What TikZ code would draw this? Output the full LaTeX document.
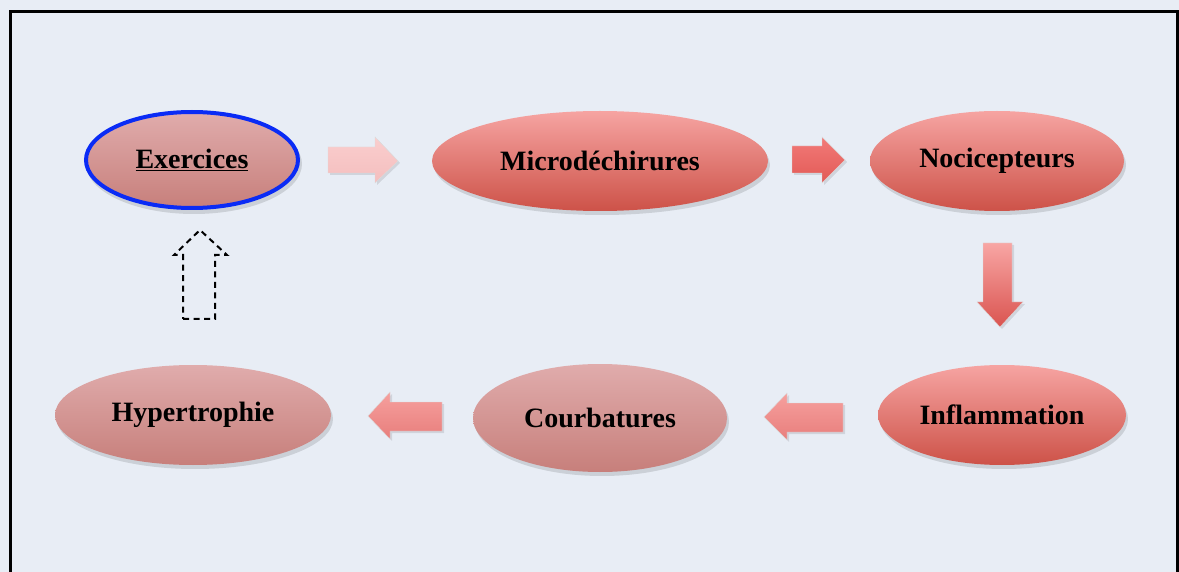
\documentclass[tikz,border=0pt]{standalone}
\usepackage{fontspec}
\setmainfont{Liberation Serif}
\usetikzlibrary{shapes.geometric}
\definecolor{bg}{HTML}{E8EDF5}
\definecolor{redtop}{HTML}{F6A4A2}
\definecolor{redbot}{HTML}{CD5248}
\definecolor{pinktop}{HTML}{E0ACAC}
\definecolor{pinkbot}{HTML}{C77F7B}
\definecolor{exblue}{HTML}{0A2BF5}
\definecolor{a1top}{HTML}{FACECE}
\definecolor{a1bot}{HTML}{F4BEBE}
\definecolor{a2top}{HTML}{F27A78}
\definecolor{a2bot}{HTML}{E25A56}
\definecolor{a3top}{HTML}{F8A6A4}
\definecolor{a3bot}{HTML}{DA5450}
\definecolor{a4top}{HTML}{F6A09E}
\definecolor{a4bot}{HTML}{E87E7C}
\tikzset{
  bubble/.style={ellipse, inner sep=0pt, font=\bfseries\fontsize{28}{32}\selectfont},
  redbubble/.style={bubble, top color=redtop, bottom color=redbot},
  pinkbubble/.style={bubble, top color=pinktop, bottom color=pinkbot},
  shadowed/.style={fill=black, opacity=0.12},
  arrowshadow/.style={fill=black, opacity=0.1},
  blockarrow/.style={draw=black!14, line width=0.4pt},
}
\begin{document}
\begin{tikzpicture}[x=1pt,y=-1pt]
\useasboundingbox (0,0) rectangle (1179,572);
\fill[bg] (0,0) rectangle (1179,572);
\begin{scope}
\clip (0,0) rectangle (1179,572);
\draw[line width=2.2pt] (10.5,580) -- (10.5,11.5) -- (1177.5,11.5) -- (1177.5,580);
\end{scope}

% shadows
\foreach \cx/\cy/\rx/\ry in {192/163/108/50, 600/164/168/50, 997/164/127/50, 1002/418/124/50, 600/421/127/54, 193/418/138/50}
  \fill[shadowed] (\cx+2,\cy+1) ellipse [x radius=\rx pt, y radius=\ry pt];

\node[pinkbubble, draw=exblue, line width=4pt, minimum width=212pt, minimum height=96pt] (ex) at (192,160) {\underline{Exercices}};
\node[redbubble, minimum width=336pt, minimum height=100pt] (mi) at (600,161) {Microdéchirures};
\node[redbubble, minimum width=254pt, minimum height=100pt] (no) at (997,161) {Nocicepteurs};
\node[redbubble, minimum width=248pt, minimum height=100pt] (in) at (1002,415) {Inflammation};
\node[pinkbubble, minimum width=254pt, minimum height=108pt] (co) at (600,418) {Courbatures};
\node[pinkbubble, minimum width=276pt, minimum height=100pt] (hy) at (193,415) {Hypertrophie};

% arrow Exercices -> Microdechirures (light)
\fill[arrowshadow] (330,149) -- (377,149) -- (377,139) -- (400,163) -- (377,185) -- (377,175) -- (330,175) -- cycle;
\shade[blockarrow, top color=a1top, bottom color=a1bot]
  (328,147) -- (375,147) -- (375,137) -- (398,161) -- (375,183) -- (375,173) -- (328,173) -- cycle;

% arrow Microdechirures -> Nocicepteurs
\fill[arrowshadow] (794,148) -- (824,148) -- (824,139) -- (847,162) -- (824,185) -- (824,175) -- (794,175) -- cycle;
\shade[blockarrow, top color=a2top, bottom color=a2bot]
  (792,146) -- (822,146) -- (822,137) -- (845,160) -- (822,183) -- (822,173) -- (792,173) -- cycle;

% arrow Nocicepteurs -> Inflammation (down)
\fill[arrowshadow] (985,245) -- (1014,245) -- (1014,304) -- (1025,304) -- (1002,329) -- (979,304) -- (985,304) -- cycle;
\shade[blockarrow, top color=a3top, bottom color=a3bot]
  (983,243) -- (1012,243) -- (1012,302) -- (1023,302) -- (1000,327) -- (977,302) -- (983,302) -- cycle;

% arrow Inflammation -> Courbatures (left)
\fill[arrowshadow] (845,405) -- (789,405) -- (789,395) -- (766,419) -- (789,442) -- (789,434) -- (845,434) -- cycle;
\shade[blockarrow, top color=a4top, bottom color=a4bot]
  (843,403) -- (787,403) -- (787,393) -- (764,417) -- (787,440) -- (787,432) -- (843,432) -- cycle;

% arrow Courbatures -> Hypertrophie (left)
\fill[arrowshadow] (444,404) -- (392,404) -- (392,394) -- (370,418) -- (392,441) -- (392,433) -- (444,433) -- cycle;
\shade[blockarrow, top color=a4top, bottom color=a4bot]
  (442,402) -- (390,402) -- (390,392) -- (368,416) -- (390,439) -- (390,431) -- (442,431) -- cycle;

% dashed arrow Hypertrophie -> Exercices
\draw[line width=2pt, dash pattern=on 6pt off 4.5pt, line join=miter]
  (183,319) -- (215,319) -- (215,255) -- (227,255) -- (200,230) -- (174,255) -- (183,255) -- cycle;
\end{tikzpicture}
\end{document}
